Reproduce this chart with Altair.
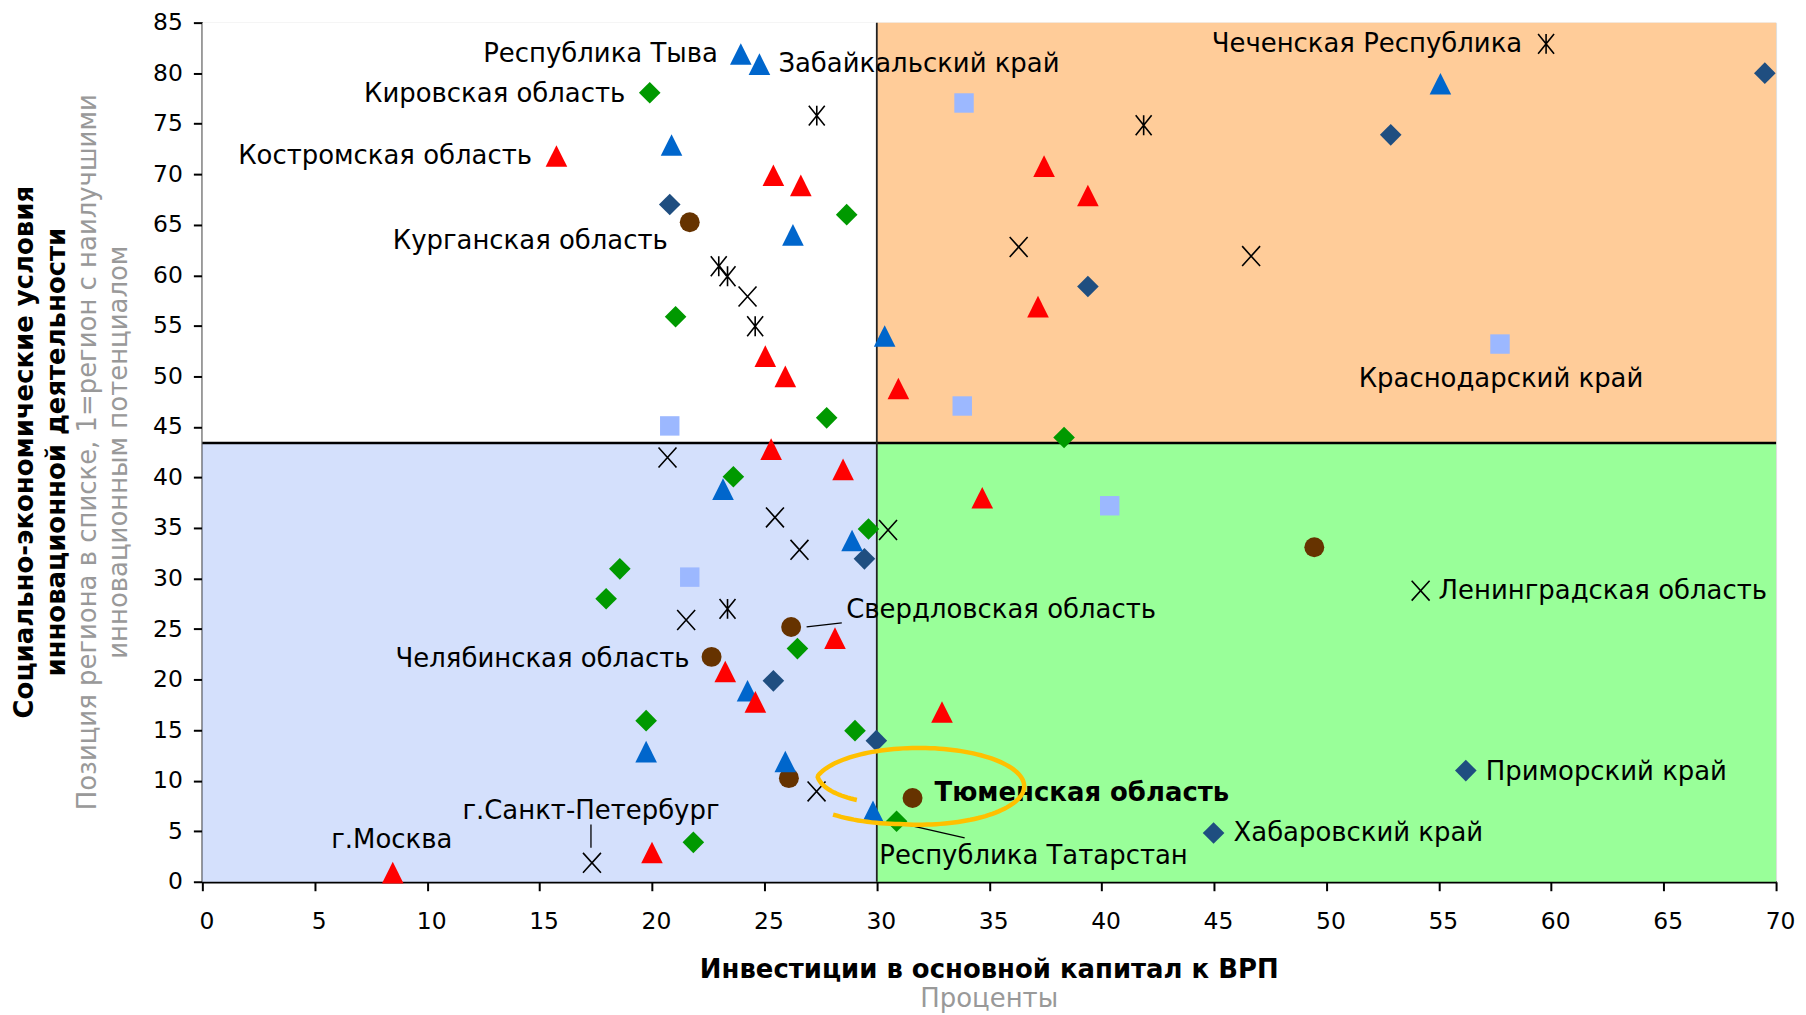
import math
import altair as alt
import pandas as pd

# ---------------- data ----------------
red_x = [15.75, 25.4, 26.62, 25.04, 25.93, 25.3, 28.5, 37.44, 39.39, 37.17, 30.96, 34.69, 28.14, 23.26, 24.6, 32.9, 20.0, 8.47]
red_y = [71.8, 69.9, 68.9, 52.0, 50.0, 42.8, 40.8, 70.8, 67.9, 56.9, 48.8, 38.0, 24.1, 20.8, 17.8, 16.8, 2.9, 0.9]

blue_x = [23.95, 24.78, 20.87, 26.27, 30.35, 55.07, 23.16, 28.9, 24.25, 19.74, 25.93, 29.83]
blue_y = [81.9, 80.9, 72.9, 64.0, 54.0, 78.95, 38.85, 33.76, 18.9, 12.88, 11.9, 6.96]

green_x = [19.9, 28.66, 21.05, 27.77, 38.33, 23.62, 29.63, 18.57, 17.96, 26.47, 19.74, 29.03, 30.88, 21.84]
green_y = [78.07, 66.0, 55.9, 45.9, 43.95, 40.07, 34.9, 30.96, 28.0, 23.07, 15.94, 14.95, 5.98, 3.9]

navy_x = [69.5, 52.86, 20.79, 39.39, 29.45, 25.4, 29.98, 56.2, 44.98]
navy_y = [80.0, 73.9, 67.0, 58.9, 31.95, 19.88, 13.96, 11.0, 4.83]

brown_x = [21.68, 26.19, 22.65, 26.09, 31.59, 49.46]
brown_y = [65.25, 25.2, 22.25, 10.25, 8.28, 33.1]

square_x = [33.88, 57.72, 33.8, 20.79, 40.36, 21.68]
square_y = [77.05, 53.2, 47.07, 45.1, 37.2, 30.14]

cross_x = [36.31, 46.65, 24.25, 20.69, 25.47, 30.5, 26.56, 21.52, 54.19, 27.32, 17.33]
cross_y = [62.8, 61.9, 57.9, 41.97, 36.05, 34.8, 32.84, 25.9, 28.8, 8.94, 1.87]

star_x = [59.77, 27.33, 41.87, 22.97, 23.36, 24.59, 23.36]
star_y = [82.9, 75.8, 74.85, 60.9, 59.9, 54.96, 27.0]

# region labels: (text, series, index in series)
label_text = ["Республика Тыва", "Забайкальский край", "Кировская область", "Костромская область",
              "Курганская область", "Чеченская Республика", "Краснодарский край", "Свердловская область",
              "Челябинская область", "Ленинградская область", "Приморский край", "Тюменская область",
              "Хабаровский край", "Республика Татарстан", "г.Санкт-Петербург", "г.Москва"]
label_series = ["blue", "blue", "green", "red", "brown", "star", "square", "brown",
                "brown", "cross", "navy", "brown", "navy", "green", "cross", "red"]
label_index = [0, 1, 0, 0, 0, 0, 1, 1, 2, 8, 7, 4, 8, 12, 10, 17]

x_ticks = list(range(0, 71, 5))
y_ticks = list(range(0, 86, 5))
x_split = 30
y_split = 43.4

quad_x0 = [0, x_split, 0, x_split]
quad_x1 = [x_split, 70, x_split, 70]
quad_y0 = [y_split, y_split, 0, 0]
quad_y1 = [85, 85, y_split, y_split]
quad_name = ["tl", "tr", "bl", "br"]

y_title = ["Социально-экономические условия", "инновационной деятельности"]
y_sub = ["Позиция региона в списке, 1=регион с наилучшими", "инновационным потенциалом"]
x_title = "Инвестиции в основной капитал к ВРП"
x_sub = "Проценты"

# ---------------- build tables ----------------
series_data = {
    "red": (red_x, red_y), "blue": (blue_x, blue_y), "green": (green_x, green_y),
    "navy": (navy_x, navy_y), "brown": (brown_x, brown_y), "square": (square_x, square_y),
    "cross": (cross_x, cross_y), "star": (star_x, star_y),
}
rows = []
for name, (xs, ys) in series_data.items():
    for i, (xv, yv) in enumerate(zip(xs, ys)):
        rows.append({"series": name, "idx": i, "x": xv, "y": yv})
pts = pd.DataFrame(rows)

quads = pd.DataFrame({"q": quad_name, "x0": quad_x0, "x1": quad_x1, "y0": quad_y0, "y1": quad_y1})

W, H = 1579, 862
FONT = "DejaVu Sans"
FS = 26
TICK_FS = 23.5
xs_ = alt.Scale(domain=[0, 70], nice=False, zero=False)
ys_ = alt.Scale(domain=[0, 85], nice=False, zero=False)

TRI = "M0,-1L1,1L-1,1Z"
CROSS = "M-0.9,-1L0.9,1M-0.9,1L0.9,-1"
STAR = "M-0.8,-1L0.8,1M-0.8,1L0.8,-1M0,-1L0,1"
styles = {
    "red": dict(shape=TRI, size=470, filled=True, color="#FF0000"),
    "blue": dict(shape=TRI, size=470, filled=True, color="#0066CC"),
    "green": dict(shape="diamond", size=470, filled=True, color="#009900"),
    "navy": dict(shape="diamond", size=470, filled=True, color="#1F4E80"),
    "brown": dict(shape="circle", size=400, filled=True, color="#663300"),
    "square": dict(shape="square", size=380, filled=True, color="#9CB8FF"),
    "cross": dict(shape=CROSS, size=400, filled=False, color="#000000", strokeWidth=1.6),
    "star": dict(shape=STAR, size=400, filled=False, color="#000000", strokeWidth=1.6),
}
draw_order = ["square", "brown", "navy", "green", "blue", "red", "cross", "star"]

base_pts = alt.Chart(pts)
enc = dict(x=alt.X("x:Q", scale=xs_,
                   axis=alt.Axis(values=x_ticks, title=None, grid=False, labelFont=FONT, labelFontSize=TICK_FS,
                                 labelColor="black", tickColor="black", tickSize=9, tickWidth=2,
                                 domainColor="black", domainWidth=2.5, labelPadding=19, labelOffset=4,
                                 labelFlush=False, labelOverlap=False)),
           y=alt.Y("y:Q", scale=ys_,
                   axis=alt.Axis(values=y_ticks, title=None, grid=False, labelFont=FONT, labelFontSize=TICK_FS,
                                 labelColor="black", tickColor="black", tickSize=9, tickWidth=2,
                                 domainColor="black", domainWidth=2.5, labelPadding=11,
                                 labelFlush=False, labelOverlap=False)))

layers = []
# quadrant backgrounds
layers.append(
    alt.Chart(quads).mark_rect().encode(
        x=alt.X("x0:Q", scale=xs_), x2="x1:Q",
        y=alt.Y("y0:Q", scale=ys_), y2="y1:Q",
        color=alt.Color("q:N", scale=alt.Scale(domain=quad_name,
                                               range=["#FFFFFF", "#FFCC99", "#D4E0FC", "#99FF99"]),
                        legend=None),
    )
)
# divider lines
layers.append(alt.Chart(pd.DataFrame({"v": [y_split]})).mark_rule(color="black", strokeWidth=2.5)
              .encode(y=alt.Y("v:Q", scale=ys_)))
layers.append(alt.Chart(pd.DataFrame({"v": [x_split]})).mark_rule(color="#222222", strokeWidth=1.8)
              .encode(x=alt.X("v:Q", scale=xs_)))

# points
for s in draw_order:
    st = styles[s]
    kw = dict(shape=st["shape"], size=st["size"], filled=st["filled"], color=st["color"], opacity=1)
    if not st["filled"]:
        kw["strokeWidth"] = st["strokeWidth"]
    layers.append(base_pts.transform_filter(alt.datum.series == s).mark_point(**kw).encode(**enc))


def point_chart(series, idx):
    return base_pts.transform_filter((alt.datum.series == series) & (alt.datum.idx == idx))


# leader lines (anchored to their points, pixel offsets)
leaders = [("brown", 1, 15.5, -0.1, 50.8, -4.1),
           ("green", 12, 10, 3.3, 68.3, 16.6),
           ("cross", 10, -1, -38.4, -1, -15.1)]
for s, i, ox1, oy1, ox2, oy2 in leaders:
    layers.append(point_chart(s, i).mark_rule(color="black", strokeWidth=1.3, xOffset=ox1, yOffset=oy1,
                                              x2Offset=ox2, y2Offset=oy2)
                  .encode(x=alt.X("x:Q", scale=xs_), y=alt.Y("y:Q", scale=ys_), x2="x:Q", y2="y:Q"))

# labels
label_style = {
    "Республика Тыва": ("right", -23, 0),
    "Забайкальский край": ("left", 19, 0),
    "Кировская область": ("right", -24.5, 1),
    "Костромская область": ("right", -24.5, 0),
    "Курганская область": ("right", -22, 18.6),
    "Чеченская Республика": ("right", -24, 0),
    "Краснодарский край": ("center", 1, 35.4),
    "Свердловская область": ("left", 55.3, -16.8),
    "Челябинская область": ("right", -22, 2.6),
    "Ленинградская область": ("left", 18, 0),
    "Приморский край": ("left", 20, 1),
    "Тюменская область": ("left", 22, -5),
    "Хабаровский край": ("left", 20, 0),
    "Республика Татарстан": ("left", -17.3, 35),
    "г.Санкт-Петербург": ("center", -1, -51.7),
    "г.Москва": ("center", -1, -32.6),
}
for t, s, i in zip(label_text, label_series, label_index):
    al, dx, dy = label_style[t]
    bold = t == "Тюменская область"
    layers.append(point_chart(s, i).mark_text(align=al, baseline="middle", dx=dx, dy=dy, font=FONT,
                                              fontSize=FS, fontWeight="bold" if bold else "normal",
                                              color="black")
                  .encode(x=alt.X("x:Q", scale=xs_), y=alt.Y("y:Q", scale=ys_), text=alt.value(t)))

# annotation ellipse around Тюменская область (open hand-drawn loop)
ell = []
n = 140
for k in range(n + 1):
    th_deg = 138 - 349 * k / n
    if th_deg > 100:
        r = 1.0 + 0.1 * (th_deg - 100) / 38
    elif th_deg > -165:
        r = 1.0
    else:
        r = 1.0 - 0.31 * (-165 - th_deg) / 46
    th = math.radians(th_deg)
    ell.append(f"{r * math.cos(th):.4f},{r * 0.365 * math.sin(th):.4f}")
ELLIPSE = "M" + "L".join(ell)
layers.append(point_chart("brown", 4).mark_point(shape=ELLIPSE, size=211 ** 2, filled=False,
                                                 color="#FFC000", strokeWidth=4.5, opacity=1,
                                                 xOffset=6.5, yOffset=-11.8)
              .encode(x=alt.X("x:Q", scale=xs_), y=alt.Y("y:Q", scale=ys_)))

# axis titles as text
one = pd.DataFrame({"a": [0]})


def title_text(txt, x, y, angle=0, bold=False, color="black"):
    kw = dict(align="center", baseline="middle", font=FONT, fontSize=FS, color=color,
              fontWeight="bold" if bold else "normal")
    if angle:
        kw["angle"] = angle
    return alt.Chart(one).mark_text(**kw).encode(x=alt.value(x), y=alt.value(y), text=alt.value(txt))


layers.append(title_text(y_title[0], -178, H / 2, 270, True))
layers.append(title_text(y_title[1], -146, H / 2, 270, True))
layers.append(title_text(y_sub[0], -115, H / 2, 270, False, "#999999"))
layers.append(title_text(y_sub[1], -84, H / 2, 270, False, "#999999"))
layers.append(title_text(x_title, W / 2, H + 89, 0, True))
layers.append(title_text(x_sub, W / 2, H + 118, 0, False, "#999999"))

chart = alt.layer(*layers).properties(
    width=W, height=H,
    autosize=alt.AutoSizeParams(type="none"),
    padding={"left": 195, "top": 13, "right": 22, "bottom": 131},
).configure_view(stroke="black", strokeWidth=2).configure(background="white")

chart.save("out.html", embed_options={"renderer": "svg", "actions": False})
